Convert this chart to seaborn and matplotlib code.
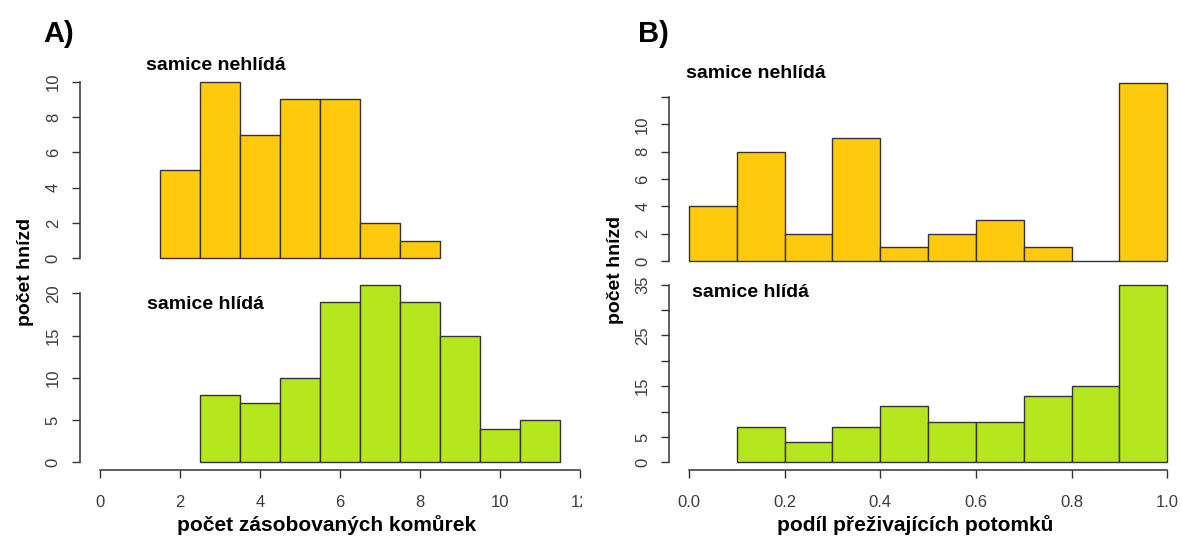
import numpy as np
import pandas as pd
import matplotlib
matplotlib.use("Agg")
import matplotlib.pyplot as plt
from matplotlib.transforms import Bbox, TransformedBbox
import seaborn as sns

# ---------------- data ----------------
# A) počet zásobovaných komůrek (bin centres, width 1)
a_nehlida_centers = [2, 3, 4, 5, 6, 7, 8]
a_nehlida_counts = [5, 10, 7, 9, 9, 2, 1]
a_hlida_centers = [3, 4, 5, 6, 7, 8, 9, 10, 11]
a_hlida_counts = [8, 7, 10, 19, 21, 19, 15, 4, 5]
a_bin_width = 1.0

# B) podíl přeživajících potomků (bin centres, width 0.1)
b_nehlida_centers = [0.05, 0.15, 0.25, 0.35, 0.45, 0.55, 0.65, 0.75, 0.85, 0.95]
b_nehlida_counts = [4, 8, 2, 9, 1, 2, 3, 1, 0, 13]
b_hlida_centers = [0.15, 0.25, 0.35, 0.45, 0.55, 0.65, 0.75, 0.85, 0.95]
b_hlida_counts = [7, 4, 7, 11, 8, 8, 13, 15, 35]
b_bin_width = 0.1

a_xticks = [0, 2, 4, 6, 8, 10, 12]
a_xticklabels = ["0", "2", "4", "6", "8", "10", "12"]
b_xticks = [0.0, 0.2, 0.4, 0.6, 0.8, 1.0]
b_xticklabels = ["0.0", "0.2", "0.4", "0.6", "0.8", "1.0"]
a_top_yticks = [0, 2, 4, 6, 8, 10]
a_bot_yticks = [0, 5, 10, 15, 20]
b_top_yticks = [0, 2, 4, 6, 8, 10, 12]
b_top_yticklabels = ["0", "2", "4", "6", "8", "10", ""]
b_bot_yticks = [0, 5, 10, 15, 20, 25, 30, 35]
b_bot_yticklabels = ["0", "5", "", "15", "", "25", "", "35"]

title_nehlida = "samice nehlídá"
title_hlida = "samice hlídá"
ylabel = "počet hnízd"
a_xlabel = "počet zásobovaných komůrek"
b_xlabel = "podíl přeživajících potomků"

col_nehlida = "#FFC90E"
col_hlida = "#B5E61D"
edge = "#333333"
axcol = "#333333"

# ---------------- style ----------------
sns.set_theme(style="white")
plt.rcParams["font.family"] = ["Liberation Sans", "DejaVu Sans"]

W, H = 1182, 544
fig = plt.figure(figsize=(W / 100, H / 100), dpi=100)


def make_axes(px_left, px_right, x0_px, px_per_x, y0_px, px_per_y, ytop):
    """Create axes whose data coordinates map to the given pixel geometry."""
    xlo = (px_left - x0_px) / px_per_x
    xhi = (px_right - x0_px) / px_per_x
    top_px = y0_px - ytop * px_per_y
    ax = fig.add_axes([px_left / W, 1 - y0_px / H,
                       (px_right - px_left) / W, (y0_px - top_px) / H])
    return ax, ((xlo, xhi), (0, ytop))


def draw_hist(ax, lims, centers, counts, width, color):
    df = pd.DataFrame({"x": centers, "n": counts})
    lo = centers[0] - width / 2
    hi = centers[-1] + width / 2
    sns.histplot(data=df, x="x", weights="n", binwidth=width,
                 binrange=(lo, hi), ax=ax,
                 color=color, edgecolor=edge, linewidth=1.0, alpha=1)
    for p in ax.patches:
        p.set_clip_on(False)
    ax.set_xlabel("")
    ax.set_ylabel("")
    ax.set_xlim(*lims[0])
    ax.set_ylim(*lims[1])
    ax.patch.set_alpha(0)


def style_y(ax, ticks, labels, lo, hi):
    for s in ["top", "right", "bottom"]:
        ax.spines[s].set_visible(False)
    ax.spines["left"].set_bounds(lo, hi)
    ax.spines["left"].set_color(axcol)
    ax.spines["left"].set_linewidth(1.1)
    ax.set_yticks(ticks)
    ax.set_yticklabels(labels)
    ax.tick_params(axis="y", left=True, length=5.8, width=1.0, color=axcol,
                   labelsize=12, labelcolor="#3c3c3c", pad=8, labelrotation=90)
    for t in ax.get_yticklabels():
        t.set_va("center")
    ax.grid(False)


def style_x(ax, ticks, labels, lo, hi):
    ax.spines["bottom"].set_visible(True)
    ax.spines["bottom"].set_position(("outward", 5.5))
    ax.spines["bottom"].set_bounds(lo, hi)
    ax.spines["bottom"].set_color(axcol)
    ax.spines["bottom"].set_linewidth(1.1)
    ax.set_xticks(ticks)
    ax.set_xticklabels(labels)
    ax.tick_params(axis="x", bottom=True, length=5.8, width=1.0, color=axcol,
                   labelsize=12, labelcolor="#3c3c3c", pad=12.5)


def no_x(ax):
    ax.set_xticks([])
    ax.spines["bottom"].set_visible(False)


# ---------------- A) ----------------
axA1, lims = make_axes(80, 580, 100, 40, 258.3, 17.67, 10.6)
draw_hist(axA1, lims, a_nehlida_centers, a_nehlida_counts, a_bin_width, col_nehlida)
style_y(axA1, a_top_yticks, [str(v) for v in a_top_yticks], 0, 10)
no_x(axA1)

axA2, lims = make_axes(80, 580, 100, 40, 462.3, 8.45, 22)
draw_hist(axA2, lims, a_hlida_centers, a_hlida_counts, a_bin_width, col_hlida)
style_y(axA2, a_bot_yticks, [str(v) for v in a_bot_yticks], 0, 20)
style_x(axA2, a_xticks, a_xticklabels, 0, 12)
clip = TransformedBbox(Bbox([[0, 0], [582 / W, 1]]), fig.transFigure)
for t in axA2.get_xticklabels():
    t.set_clip_on(True)
    t.set_clip_box(clip)

# ---------------- B) ----------------
axB1, lims = make_axes(669.3, 1172, 689, 478.3, 261, 13.67, 13.6)
draw_hist(axB1, lims, b_nehlida_centers, b_nehlida_counts, b_bin_width, col_nehlida)
style_y(axB1, b_top_yticks, b_top_yticklabels, 0, 12)
no_x(axB1)

axB2, lims = make_axes(669.3, 1172, 689, 478.3, 462.3, 5.075, 36.8)
draw_hist(axB2, lims, b_hlida_centers, b_hlida_counts, b_bin_width, col_hlida)
style_y(axB2, b_bot_yticks, b_bot_yticklabels, 0, 35)
style_x(axB2, b_xticks, b_xticklabels, 0, 1.0)


# ---------------- texts ----------------
def ftext(px, py, s, **kw):
    fig.text(px / W, 1 - py / H, s, color="black", **kw)


ftext(43, 42, "A)", fontsize=21, fontweight="bold", va="baseline", ha="left")
ftext(638, 42, "B)", fontsize=21, fontweight="bold", va="baseline", ha="left")

ftext(146, 70, title_nehlida, fontsize=14, fontweight="bold", va="baseline", ha="left")
ftext(147, 309, title_hlida, fontsize=14, fontweight="bold", va="baseline", ha="left")
ftext(686, 78, title_nehlida, fontsize=14, fontweight="bold", va="baseline", ha="left")
ftext(692, 297, title_hlida, fontsize=14, fontweight="bold", va="baseline", ha="left")

ftext(26, 272, ylabel, fontsize=14, fontweight="bold", rotation=90, va="center", ha="center")
ftext(616, 270, ylabel, fontsize=14, fontweight="bold", rotation=90, va="center", ha="center")

ftext(327, 525, a_xlabel, fontsize=15, fontweight="bold", va="center", ha="center")
ftext(915, 525, b_xlabel, fontsize=15, fontweight="bold", va="center", ha="center")

fig.savefig("out.png", dpi=100, facecolor="white")
